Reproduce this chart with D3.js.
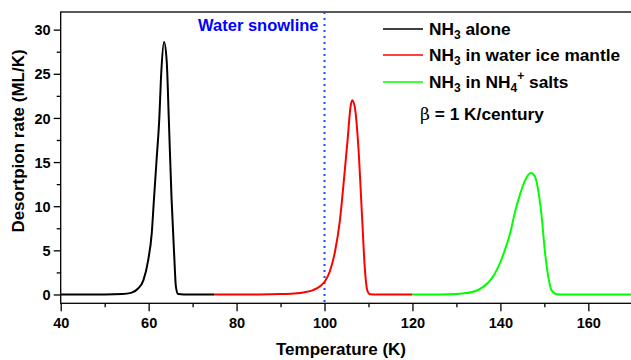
<!DOCTYPE html>
<html>
<head>
<meta charset="utf-8">
<script src="https://cdn.jsdelivr.net/npm/d3@7"></script>
<style>
  body { margin: 0; background: #fff; }
  svg { display: block; font-family: "Liberation Sans", Arial, sans-serif; }
  .tick-label { font-size: 14.5px; font-weight: bold; fill: #000; }
  .axis-title { font-size: 17px; font-weight: bold; fill: #000; }
  .legend-text { font-size: 17.3px; font-weight: bold; fill: #000; }
</style>
</head>
<body>
<div id="chart"></div>
<script>
// values
var xTicks = [40, 60, 80, 100, 120, 140, 160];
var xMinorTicks = [50, 70, 90, 110, 130, 150, 170];
var yTicks = [0, 5, 10, 15, 20, 25, 30];
var yMinorTicks = [2.5, 7.5, 12.5, 17.5, 22.5, 27.5];

var aloneT = [40, 50, 54, 56, 57.6, 58.8, 59.9, 60.7, 61.2, 61.8, 62.4, 62.9, 63.5, 64.1, 64.6, 65.2, 65.8, 66.2, 66.7, 68, 75];
var aloneV = [0, 0.01, 0.05, 0.18, 0.68, 1.6, 3.9, 6.9, 10.7, 15.2, 19.7, 25.4, 28.6, 26.5, 19.7, 11.0, 4.6, 0.9, 0.05, 0, 0];

var waterT = [75, 85, 90, 93, 95.5, 97.4, 99.0, 100.1, 101.2, 102.4, 103.5, 104.4, 105.3, 105.9, 106.3, 106.9, 107.7, 108.5, 109.2, 109.7, 110.3, 112, 120];
var waterV = [0, 0.01, 0.04, 0.1, 0.25, 0.5, 0.94, 1.5, 2.6, 4.9, 8.4, 12.9, 17.8, 21.2, 22.0, 21.2, 16.7, 9.2, 2.75, 0.5, 0.03, 0, 0];

var saltT = [120, 125, 128, 130.8, 133.8, 136.1, 138.0, 139.5, 141.0, 142.2, 143.3, 144.5, 145.6, 146.9, 147.9, 148.6, 149.4, 150.1, 150.9, 151.6, 152.8, 155, 170];
var saltV = [0, 0.01, 0.03, 0.08, 0.3, 0.86, 1.8, 3.1, 5.0, 6.9, 9.3, 11.4, 12.9, 13.75, 13.3, 11.8, 8.8, 5.0, 2.0, 0.5, 0.03, 0, 0];

var snowline = 100;

var W = 631, H = 360;
var plotLeft = 60.7, plotRight = 632.3, plotTop = 12, plotBottom = 303.3;

var x = d3.scaleLinear().domain([40, 170]).range([plotLeft, plotRight]);
var y = d3.scaleLinear().domain([-1, 32]).range([plotBottom, plotTop]);

var svg = d3.select("#chart").append("svg")
  .attr("width", W).attr("height", H);

svg.append("defs").append("clipPath").attr("id", "plotClip")
  .append("rect").attr("x", plotLeft).attr("y", plotTop)
  .attr("width", plotRight - plotLeft).attr("height", plotBottom - plotTop);

// frame
svg.append("rect")
  .attr("x", plotLeft).attr("y", plotTop)
  .attr("width", plotRight - plotLeft).attr("height", plotBottom - plotTop)
  .attr("fill", "none").attr("stroke", "#000").attr("stroke-width", 1.3);

// bottom axis
var xAxis = svg.append("g").attr("transform", "translate(0," + plotBottom + ")");
xAxis.call(d3.axisBottom(x).tickValues(xTicks).tickSize(8).tickFormat(d3.format("d")));
xAxis.append("g").call(d3.axisBottom(x).tickValues(xMinorTicks).tickSize(4).tickFormat(""));
xAxis.selectAll(".domain").remove();
xAxis.selectAll("line").attr("stroke", "#000").attr("stroke-width", 1.3);
xAxis.selectAll("text").attr("class", "tick-label").attr("y", 14).attr("dy", "0.71em");

// left axis
var yAxis = svg.append("g").attr("transform", "translate(" + plotLeft + ",0)");
yAxis.call(d3.axisLeft(y).tickValues(yTicks).tickSize(7).tickFormat(d3.format("d")));
yAxis.append("g").call(d3.axisLeft(y).tickValues(yMinorTicks).tickSize(4).tickFormat(""));
yAxis.selectAll(".domain").remove();
yAxis.selectAll("line").attr("stroke", "#000").attr("stroke-width", 1.3);
yAxis.selectAll("text").attr("class", "tick-label").attr("x", -10).attr("dy", "0.35em");

// axis titles
svg.append("text").attr("class", "axis-title")
  .attr("x", 341).attr("y", 355).attr("text-anchor", "middle")
  .text("Temperature (K)");

svg.append("text").attr("class", "axis-title")
  .attr("transform", "translate(24," + 141 + ") rotate(-90)")
  .attr("text-anchor", "middle")
  .text("Desortpion rate (ML/K)");

// snowline
svg.append("line")
  .attr("x1", x(snowline)).attr("x2", x(snowline))
  .attr("y1", plotTop).attr("y2", plotBottom)
  .attr("stroke", "#1a4dff").attr("stroke-width", 2)
  .attr("stroke-dasharray", "2,4");

svg.append("text")
  .attr("x", x(snowline) - 6).attr("y", 31)
  .attr("text-anchor", "end")
  .attr("font-size", "16.5px").attr("font-weight", "bold")
  .attr("fill", "#0000ff")
  .text("Water snowline");

// curves
var line = d3.line()
  .x(function (d) { return x(d[0]); })
  .y(function (d) { return y(d[1]); })
  .curve(d3.curveMonotoneX);

var series = [
  { t: aloneT, v: aloneV, color: "#000000" },
  { t: waterT, v: waterV, color: "#ff0000" },
  { t: saltT, v: saltV, color: "#00ff00" }
];

var plot = svg.append("g").attr("clip-path", "url(#plotClip)");
series.forEach(function (s) {
  var pts = s.t.map(function (t, i) { return [t, s.v[i]]; });
  plot.append("path")
    .attr("d", line(pts))
    .attr("fill", "none")
    .attr("stroke", s.color)
    .attr("stroke-width", 2);
});

// legend
var legendRows = [29, 55, 82];
var legendColors = ["#000000", "#ff0000", "#00ff00"];
legendColors.forEach(function (c, i) {
  svg.append("line")
    .attr("x1", 383).attr("x2", 423)
    .attr("y1", legendRows[i]).attr("y2", legendRows[i])
    .attr("stroke", c).attr("stroke-width", 1.5);
});

var lt1 = svg.append("text").attr("class", "legend-text").attr("x", 429).attr("y", legendRows[0] + 6);
lt1.append("tspan").text("NH");
lt1.append("tspan").attr("font-size", "12px").attr("dy", 4).text("3");
lt1.append("tspan").attr("dy", -4).text(" alone");

var lt2 = svg.append("text").attr("class", "legend-text").attr("x", 429).attr("y", legendRows[1] + 6);
lt2.append("tspan").text("NH");
lt2.append("tspan").attr("font-size", "12px").attr("dy", 4).text("3");
lt2.append("tspan").attr("dy", -4).text(" in water ice mantle");

var lt3 = svg.append("text").attr("class", "legend-text").attr("x", 429).attr("y", legendRows[2] + 6);
lt3.append("tspan").text("NH");
lt3.append("tspan").attr("font-size", "12px").attr("dy", 4).text("3");
lt3.append("tspan").attr("dy", -4).text(" in NH");
lt3.append("tspan").attr("font-size", "12px").attr("dy", 4).text("4");
lt3.append("tspan").attr("font-size", "12px").attr("dy", -12).text("+");
lt3.append("tspan").attr("dy", 8).text(" salts");

var beta = svg.append("text").attr("class", "legend-text").attr("x", 420).attr("y", 120);
beta.append("tspan").attr("font-weight", "normal").attr("font-family", "'DejaVu Serif', serif").text("β");
beta.append("tspan").text(" = 1 K/century");
</script>
</body>
</html>
